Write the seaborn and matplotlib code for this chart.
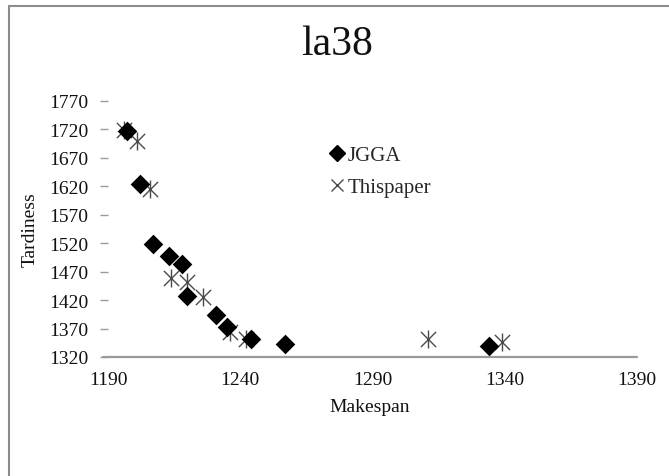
import matplotlib
matplotlib.use("Agg")
import matplotlib.pyplot as plt
import seaborn as sns
import pandas as pd
from matplotlib.lines import Line2D
from matplotlib.patches import Rectangle

# JGGA solutions (makespan, tardiness)
jgga_makespan = [1197, 1202, 1207, 1213, 1218, 1220, 1231, 1235, 1244, 1257, 1334]
jgga_tardiness = [1718, 1624, 1519, 1498, 1483, 1428, 1393, 1372, 1352, 1343, 1339]

# Solutions of this paper
ours_makespan = [1196, 1201, 1206, 1214, 1220, 1226, 1236, 1242, 1311, 1339]
ours_tardiness = [1719, 1700, 1615, 1458, 1452, 1425, 1364, 1352, 1352, 1346]

x_ticks = [1190, 1240, 1290, 1340, 1390]
y_ticks = [1320, 1370, 1420, 1470, 1520, 1570, 1620, 1670, 1720, 1770]

sns.set_theme(style="white")
plt.rcParams["font.family"] = ["Liberation Serif", "DejaVu Serif"]

W, H = 669, 477
fig = plt.figure(figsize=(W / 100, H / 100), dpi=100)
ax_left, ax_w = 108, 529
ax = fig.add_axes([ax_left / W, 1 - 358 / H, ax_w / W, 256 / H])

jgga = pd.DataFrame({"Makespan": jgga_makespan, "Tardiness": jgga_tardiness})
ours = pd.DataFrame({"Makespan": ours_makespan, "Tardiness": ours_tardiness})

star_color = "#4a4a4a"
sns.scatterplot(data=ours, x="Makespan", y="Tardiness", ax=ax, marker="x",
                s=120, color=star_color, linewidth=1.0, zorder=3)
sns.scatterplot(data=ours, x="Makespan", y="Tardiness", ax=ax, marker="|",
                s=170, color=star_color, linewidth=1.0, zorder=3)
sns.scatterplot(data=jgga, x="Makespan", y="Tardiness", ax=ax, marker="D",
                s=100, color="black", edgecolor="black", linewidth=0, zorder=4)

ax.set_xlim(1190, 1390)
ax.set_ylim(1320, 1770)
ax.set_xticks(x_ticks)
ax.set_yticks(y_ticks)
ax.set_xticks([1290, 1390], minor=True)
ax.set_xlabel("")
ax.set_ylabel("")

for side in ["top", "right", "left", "bottom"]:
    ax.spines[side].set_visible(False)

# horizontal axis line, starting a little left of the plot area
axis_color = "#9a9a9a"
ax.plot([-5 / ax_w, 1], [0, 0], transform=ax.transAxes, color=axis_color,
        linewidth=1.6, clip_on=False, zorder=2)

ax.tick_params(axis="x", which="major", length=0, pad=10, labelsize=14, colors="#111111")
ax.tick_params(axis="x", which="minor", direction="out", length=5, width=1.2,
               color=axis_color, bottom=True)
ax.tick_params(axis="y", which="major", direction="out", length=6, width=1.0,
               color=axis_color, left=True, pad=8, labelsize=14, labelcolor="#111111")

fig.text(337 / W, 1 - 45 / H, "la38", ha="center", va="center", fontsize=30, color="#111111")
fig.text(30 / W, 1 - 230 / H, "Tardiness", ha="center", va="center", rotation=90,
         fontsize=14, color="#111111")
fig.text(370 / W, 1 - 408 / H, "Makespan", ha="center", va="center", fontsize=14,
         color="#111111")

handles = [
    Line2D([], [], linestyle="none", marker="D", markersize=8, color="black"),
    Line2D([], [], linestyle="none", marker="x", markersize=9, color=star_color,
           markeredgewidth=1.0),
]
fig.legend(handles, ["JGGA", "Thispaper"], loc="upper left",
           bbox_to_anchor=(318 / W, 1 - 136 / H), frameon=False, fontsize=15,
           handlelength=0.8, handletextpad=0.1, labelspacing=0.6, borderpad=0)

# chart area border
fig.patches.append(Rectangle((9 / W, -0.1), 1.2, 1.1 - 7 / H, transform=fig.transFigure,
                             fill=False, edgecolor="#8c8c8c", linewidth=1.5))

fig.savefig("out.png", dpi=100, facecolor="white")
